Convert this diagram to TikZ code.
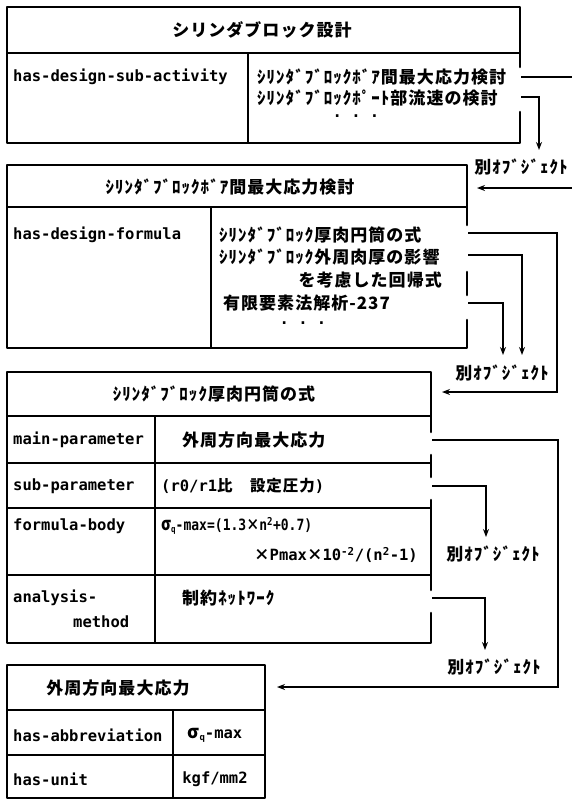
\documentclass[tikz,border=0pt]{standalone}
\usepackage{fontspec}
\usepackage{graphicx}
\usetikzlibrary{arrows.meta}
\newfontfamily\jp{Noto Sans CJK JP}[LetterSpace=6]
\newfontfamily\jpn{Noto Sans CJK JP}
\newfontfamily\mono{DejaVu Sans Mono}
\tikzset{
  frame/.style={line width=2.6pt, line cap=round, line join=round},
  inner/.style={line width=1.7pt},
  conn/.style={line width=1.5pt},
  arr/.style={conn, -{Stealth[length=8pt,width=6pt]}},
  lab/.style={anchor=west, inner sep=0pt, font=\mono\bfseries\fontsize{15.5}{16}\selectfont},
  jtx/.style={anchor=west, inner sep=0pt, font=\jp\bfseries\fontsize{17}{19}\selectfont},
  jhd/.style={inner sep=0pt, font=\jp\bfseries\fontsize{17}{19}\selectfont},
}
\begin{document}
\begin{tikzpicture}[x=1pt,y=-1pt]
\useasboundingbox[fill=white] (0,0) rectangle (572,801);

% ---------- Box 1 ----------
\draw[frame] (520,67) -- (520,7) -- (7,7) -- (7,143) -- (520,143) -- (520,112);
\draw[inner] (7,53) -- (520,53);
\draw[inner] (248,53) -- (248,143);
\node[jhd] (h1) at (262,30) {シリンダブロック設計};
\node[lab] (k1) at (13,77) {has-design-sub-activity};
\node[jtx] (v1a) at (257,77) {ｼﾘﾝﾀﾞﾌﾞﾛｯｸﾎﾞｱ間最大応力検討};
\node[jtx] (v1b) at (257,98) {ｼﾘﾝﾀﾞﾌﾞﾛｯｸﾎﾟｰﾄ部流速の検討};
\node[lab, anchor=center] (d1) at (356,118) {· · ·};

% ---------- Box 2 ----------
\draw[frame] (467,225) -- (467,165) -- (7,165) -- (7,348) -- (467,348) -- (467,320);
\draw[frame] (467,272) -- (467,295);
\draw[inner] (7,207) -- (467,207);
\draw[inner] (211,207) -- (211,348);
\node[jhd] (h2) at (230,187) {ｼﾘﾝﾀﾞﾌﾞﾛｯｸﾎﾞｱ間最大応力検討};
\node[lab] (k2) at (13,235) {has-design-formula};
\node[jtx] (v2a) at (219,235) {ｼﾘﾝﾀﾞﾌﾞﾛｯｸ厚肉円筒の式};
\node[jtx] (v2b) at (219,257) {ｼﾘﾝﾀﾞﾌﾞﾛｯｸ外周肉厚の影響};
\node[jtx, anchor=east] (v2c) at (442,280) {を考慮した回帰式};
\node[jtx] (v2d) at (223,303) {有限要素法解析-237};
\node[lab, anchor=center] (d2) at (303,325) {· · ·};

% ---------- Box 3 ----------
\draw[frame] (431,432) -- (431,372) -- (7,372) -- (7,643) -- (431,643) -- (431,613);
\draw[frame] (431,455) -- (431,477);
\draw[frame] (431,500) -- (431,590);
\draw[inner] (7,416) -- (431,416);
\draw[inner] (7,463) -- (431,463);
\draw[inner] (7,508) -- (431,508);
\draw[inner] (7,575) -- (431,575);
\draw[inner] (155,416) -- (155,643);
\node[jhd] (h3) at (214,394) {ｼﾘﾝﾀﾞﾌﾞﾛｯｸ厚肉円筒の式};
\node[lab] (k3a) at (13,440) {main-parameter};
\node[jtx] (v3a) at (182,440) {外周方向最大応力};
\node[lab] (k3b) at (13,486) {sub-parameter};
\node[lab] (v3b) at (161,486) {(r0/r1{\jp 比　設定圧力})};
\node[lab] (k3c) at (13,526) {formula-body};
\node[lab] (v3c) at (161,526) {\scalebox{0.84}[1]{{\jpn\fontsize{18}{18}\selectfont σ}\raisebox{-2pt}{\fontsize{9}{9}\selectfont q}-max=(1.3{\jpn ×}n\textsuperscript{2}+0.7)}};
\node[lab] (v3d) at (254,555) {{\jpn ×}Pmax{\jpn ×}10\textsuperscript{-2}/(n\textsuperscript{2}-1)};
\node[lab] (k3d) at (13,598) {analysis-};
\node[lab] (k3e) at (73,622) {method};
\node[jtx] (v3e) at (182,598) {制約ﾈｯﾄﾜｰｸ};

% ---------- Box 4 ----------
\draw[frame] (7,665) rectangle (265,798);
\draw[inner] (7,710) -- (265,710);
\draw[inner] (7,755) -- (265,755);
\draw[inner] (173,710) -- (173,798);
\node[jhd] (h4) at (118,688) {外周方向最大応力};
\node[lab] (k4a) at (13,735) {has-abbreviation};
\node[lab, anchor=center] (v4a) at (215,735) {{\jpn\fontsize{18}{18}\selectfont σ}\raisebox{-2pt}{\fontsize{9}{9}\selectfont q}-max};
\node[lab] (k4b) at (13,779) {has-unit};
\node[lab, anchor=center] (v4b) at (215,779) {kgf/mm2};

% ---------- labels ----------
\node[jhd] (o1) at (521,167) {別ｵﾌﾞｼﾞｪｸﾄ};
\node[jhd] (o2) at (502,373) {別ｵﾌﾞｼﾞｪｸﾄ};
\node[jhd] (o3) at (493,554) {別ｵﾌﾞｼﾞｪｸﾄ};
\node[jhd] (o4) at (494,667) {別ｵﾌﾞｼﾞｪｸﾄ};

% ---------- connector coordinates ----------
\coordinate (s1a) at (521,77);  \coordinate (e1a) at (572,77);
\coordinate (s1b) at (521,97);  \coordinate (t1b) at (539,150);
\coordinate (s2in) at (572,188); \coordinate (t2in) at (477,188);
\coordinate (s2a) at (468,233); \coordinate (b2a) at (557,392); \coordinate (t2a) at (442,392);
\coordinate (s2b) at (468,255); \coordinate (t2b) at (522,355);
\coordinate (s2d) at (468,303); \coordinate (t2d) at (503,355);
\coordinate (s3a) at (432,440); \coordinate (b3a) at (558,687); \coordinate (t3a) at (277,687);
\coordinate (s3b) at (432,486); \coordinate (t3b) at (486,537);
\coordinate (s3e) at (432,598); \coordinate (t3e) at (485,650);

% ---------- connectors ----------
\draw[conn] (s1a) -- (e1a);
\draw[arr] (s1b) -| (t1b);
\draw[arr] (s2in) -- (t2in);
\draw[arr] (s2a) -| (b2a) -- (t2a);
\draw[arr] (s2b) -| (t2b);
\draw[arr] (s2d) -| (t2d);
\draw[arr] (s3a) -| (b3a) -- (t3a);
\draw[arr] (s3b) -| (t3b);
\draw[arr] (s3e) -| (t3e);
\end{tikzpicture}
\end{document}
